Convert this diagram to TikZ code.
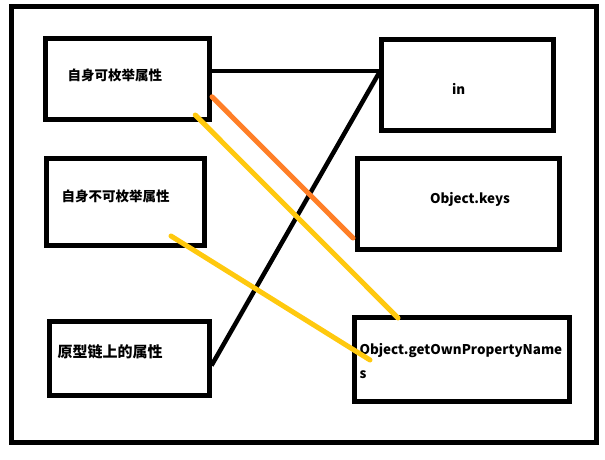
\documentclass[tikz,border=0pt]{standalone}
\usepackage{fontspec}
\setmainfont{Noto Sans CJK SC}
\usetikzlibrary{calc}
\definecolor{paintorange}{RGB}{255,127,39}
\definecolor{paintgold}{RGB}{255,201,14}
\tikzset{
  box/.style={draw=black, line width=5pt, rectangle, inner sep=0pt, outer sep=0pt},
  lbl/.style={inner sep=0pt, outer sep=0pt, anchor=base west, font=\bfseries\fontsize{13.5}{16}\selectfont},
  latin/.style={inner sep=0pt, outer sep=0pt, anchor=base west, font=\bfseries\fontsize{13.4}{16}\selectfont},
  blackline/.style={draw=black, line width=4.5pt},
  orangeline/.style={draw=paintorange, line width=5pt, line cap=round},
  goldline/.style={draw=paintgold, line width=5pt, line cap=round},
}
\begin{document}
\begin{tikzpicture}[x=1pt, y=-1pt]
\useasboundingbox (0,0) rectangle (605,459);
\fill[white] (0,0) rectangle (605,459);
% outer frame
\node[box, minimum width=584.5pt, minimum height=436pt] (frame) at (303.75,224.5) {};
% left boxes
\node[box, minimum width=163.5pt, minimum height=80.5pt] (A) at (127.25,78.75) {};
\node[box, minimum width=158pt, minimum height=87pt] (B) at (125.5,202) {};
\node[box, minimum width=160pt, minimum height=74pt] (C) at (129.5,358.5) {};
% right boxes
\node[box, minimum width=172pt, minimum height=91.5pt] (in) at (467,84.75) {};
\node[box, minimum width=202pt, minimum height=91pt] (keys) at (458,204) {};
\node[box, minimum width=215pt, minimum height=84pt] (D) at (462,359.5) {};
% texts
\node[lbl] (tA) at (67.5,80) {自身可枚举属性};
\node[lbl] (tB) at (61.5,201) {自身不可枚举属性};
\node[lbl, font=\bfseries\fontsize{15}{18}\selectfont] (tC) at (57.5,357) {原型链上的属性};
\node[latin] (tin) at (452,94) {in};
\node[latin] (tkeys) at (430,203) {Object.keys};
\node[latin] (tD1) at (359.5,354) {Object.getOwnPropertyName};
\node[latin] (tD2) at (359.5,378) {s};
% connectors
\draw[blackline] ($(A.east)+(0,-8)$) -- ($(in.west)+(0,-14)$);
\draw[blackline] ($(in.west)+(-1,-13.5)$) -- ($(C.east)+(2,7)$);
\draw[orangeline] ($(A.east)+(3,18)$) -- ($(keys.west)+(-4,34)$);
\draw[goldline] ($(A.south)+(68,-4)$) -- ($(D.north)+(-64,0.5)$);
\draw[goldline] ($(B.south)+(45.5,-9.5)$) -- ($(D.west)+(15.5,0.5)$);
\end{tikzpicture}
\end{document}
